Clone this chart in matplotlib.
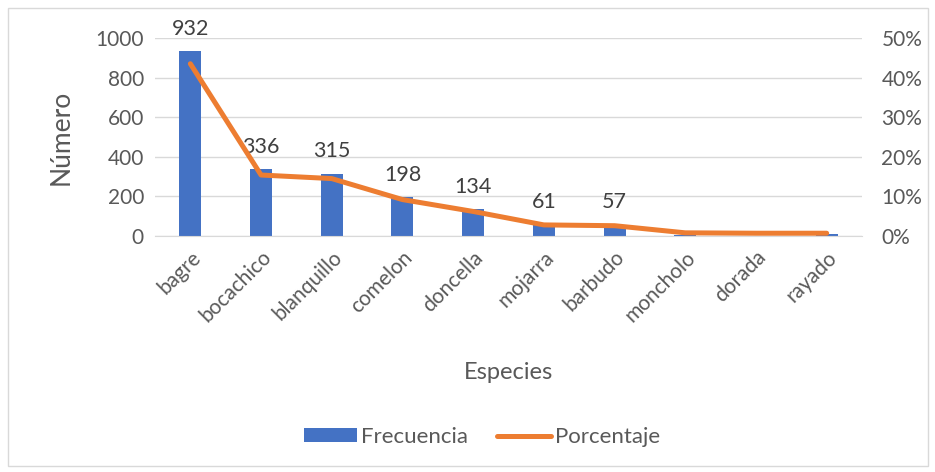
import numpy as np
import matplotlib.pyplot as plt
from matplotlib.patches import Rectangle

especies = ['bagre', 'bocachico', 'blanquillo', 'comelon', 'doncella',
            'mojarra', 'barbudo', 'moncholo', 'dorada', 'rayado']
frecuencia = [932, 336, 315, 198, 134, 61, 57, 3, 2, 11]
porcentaje = [43.5, 15.4, 14.5, 9.2, 6.2, 2.8, 2.6, 0.8, 0.7, 0.7]
etiquetas = ['932', '336', '315', '198', '134', '61', '57', '', '', '']

gris = '#595959'
plt.rcParams['font.family'] = ['Lato', 'DejaVu Sans']

fig = plt.figure(figsize=(9.35, 4.72), dpi=100)
fig.patches.append(Rectangle((8 / 935, 6 / 472), 920 / 935, 458 / 472,
                             transform=fig.transFigure, fill=False,
                             edgecolor='#d9d9d9', linewidth=1))

ax = fig.add_axes([155 / 935, 1 - 236 / 472, 707 / 935, 198 / 472])
x = np.arange(len(especies))
ax.bar(x, frecuencia, width=0.31, color='#4472C4', zorder=2, label='Frecuencia')
for xi, v, t in zip(x, frecuencia, etiquetas):
    if t:
        ax.text(xi, v + 62, t, ha='center', va='bottom', fontsize=15.5, color='#404040')

ax.set_ylim(0, 1000)
ax.set_yticks(range(0, 1001, 200))
ax.set_xlim(-0.5, len(especies) - 0.5)
ax.grid(axis='y', color='#d9d9d9', linewidth=1, zorder=0)
for s in ['top', 'right', 'left']:
    ax.spines[s].set_visible(False)
ax.spines['bottom'].set_color('#d9d9d9')
ax.tick_params(axis='both', length=0, labelsize=15, colors=gris, pad=8)
ax.set_xticks(x)
ax.set_xticklabels(especies, rotation=45, ha='right', rotation_mode='anchor')
ax.set_ylabel('Número', fontsize=19, color=gris, labelpad=16)
ax.set_xlabel('Especies', fontsize=17, color=gris, labelpad=26)

ax2 = ax.twinx()
ax2.plot(x, porcentaje, color='#ED7D31', linewidth=3.6, solid_capstyle='round',
         zorder=3, label='Porcentaje')
ax2.set_ylim(0, 50)
ax2.set_yticks(range(0, 51, 10))
ax2.set_yticklabels(['%d%%' % v for v in range(0, 51, 10)])
for s in ['top', 'right', 'left', 'bottom']:
    ax2.spines[s].set_visible(False)
ax2.tick_params(axis='y', length=0, labelsize=15, colors=gris, pad=14)

h1, l1 = ax.get_legend_handles_labels()
h2, l2 = ax2.get_legend_handles_labels()
fig.legend(h1 + h2, l1 + l2, loc='center', bbox_to_anchor=(482 / 935, 1 - 437 / 472),
           ncol=2, frameon=False, fontsize=16, labelcolor=gris,
           handlelength=2.4, handleheight=0.55, columnspacing=1.3, handletextpad=0.2)

fig.savefig('out.png', dpi=100)
